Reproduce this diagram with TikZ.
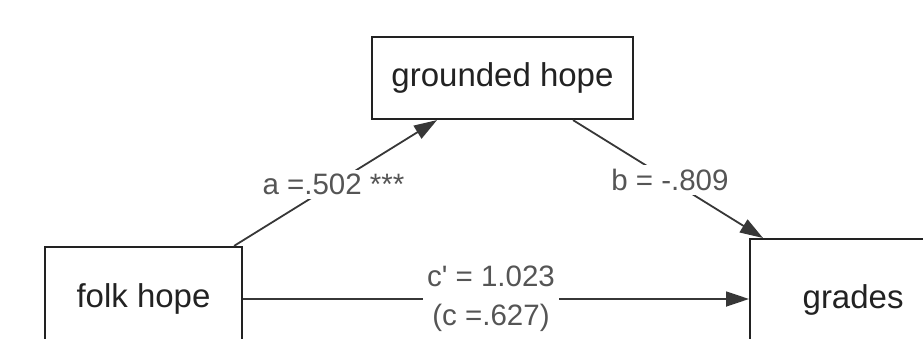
\documentclass[tikz,border=0pt]{standalone}
\usepackage{fontspec}
\setmainfont{Liberation Sans}
\usetikzlibrary{arrows.meta}
\definecolor{boxgray}{RGB}{34,34,34}
\definecolor{linegray}{RGB}{55,55,55}
\definecolor{labelgray}{RGB}{85,85,85}
\newcommand{\drawarrow}{\draw[line width=1.8pt, draw=linegray, -{Triangle[length=23pt,width=15pt]}]}
\tikzset{
    varbox/.style={draw=boxgray, line width=2.2pt, text=boxgray, font=\fontsize{33}{40}\selectfont},
    coef/.style={fill=white, text=labelgray, inner sep=4pt, font=\fontsize{29.5}{39}\selectfont},
}

\begin{document}
\begin{tikzpicture}[x=1pt, y=-1pt]
    \useasboundingbox (0,0) rectangle (923,339);
    \clip (0,0) rectangle (923,339);

    % Draw boxes
    \node[varbox, minimum width=261pt, minimum height=82pt] (ground) at (502.5,78) {grounded hope};
    \node[varbox, minimum width=197pt, minimum height=104pt] (folk) at (143.5,299) {folk hope};
    \node[varbox, minimum width=206pt, minimum height=122pt, anchor=north west] (grades) at (749,238) {grades};

    % Draw paths
    \drawarrow ([xshift=-9pt]folk.north east) -- node[coef, pos=0.49] {a =.502 ***} ([xshift=-65.5pt]ground.south);
    \drawarrow ([xshift=70.5pt]ground.south) -- node[coef, pos=0.51] {b = -.809} ([xshift=14pt]grades.north west);
    \drawarrow (folk.east) -- node[coef, pos=0.49, align=center] {c\textquotesingle{} = 1.023\\(c =.627)} (folk.east -| grades.west);
\end{tikzpicture}
\end{document}
